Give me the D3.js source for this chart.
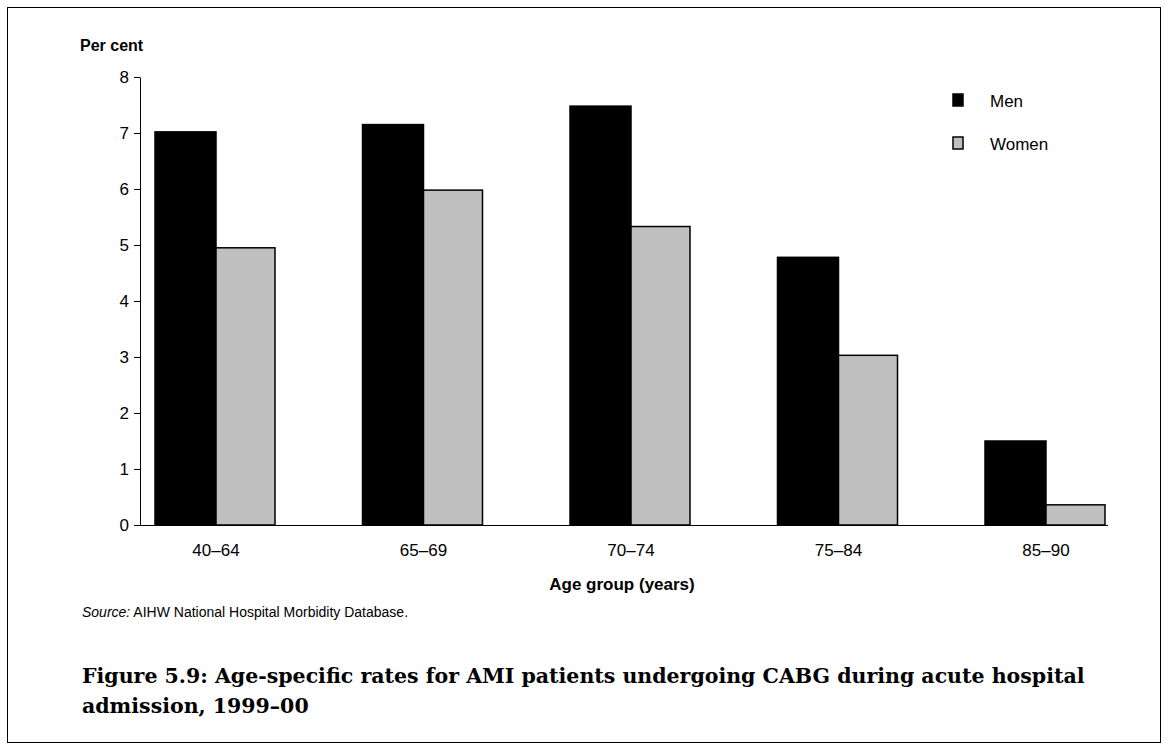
<!DOCTYPE html>
<html><head><meta charset="utf-8">
<script src="https://cdn.jsdelivr.net/npm/d3@7"></script>
<style>body{margin:0;background:#fff}</style></head>
<body><svg id="c" width="1169" height="751"></svg>
<script>
const categories = ["40–64","65–69","70–74","75–84","85–90"];
const men = [7.02, 7.15, 7.48, 4.78, 1.5];
const women = [4.95, 5.98, 5.33, 3.03, 0.36];
const yTicks = [0,1,2,3,4,5,6,7,8];
const svg = d3.select("#c");
const F = "Arial, 'Liberation Sans', sans-serif";
svg.append("rect").attr("x",7.5).attr("y",7.5).attr("width",1153).attr("height",735).attr("fill","none").attr("stroke","#000").attr("stroke-width",1);
const x = d3.scaleBand().domain(categories).range([112.25,1149.75]);
const y = d3.scaleLinear().domain([0,8]).range([525,77]);
const bw = 61;
const g = svg.append("g");
categories.forEach((c,i)=>{
  const cx = x(c)+x.bandwidth()/2;
  g.append("rect").attr("x",cx-bw).attr("y",y(men[i])).attr("width",bw).attr("height",y(0)-y(men[i])).attr("fill","#000").attr("stroke","#000").attr("stroke-width",1.5);
  g.append("rect").attr("x",cx).attr("y",y(women[i])).attr("width",bw-2).attr("height",y(0)-y(women[i])).attr("fill","#c0c0c0").attr("stroke","#000").attr("stroke-width",1.5);
});
const ya = svg.append("g").attr("transform","translate(140,0)").call(d3.axisLeft(y).tickValues(yTicks).tickSize(6).tickSizeOuter(0));
const xa = svg.append("g").attr("transform","translate(0,525)").call(d3.axisBottom(x).tickSize(0).tickSizeOuter(0));
xa.select("path").remove();
svg.append("line").attr("x1",140).attr("x2",1108).attr("y1",525.5).attr("y2",525.5).attr("stroke","#000");
[ya,xa].forEach(a=>{a.selectAll("text").attr("font-family",F).attr("font-size",17).attr("fill","#000");a.selectAll("line,path").attr("stroke","#000");});
ya.selectAll("text").attr("dx",-2);
xa.selectAll("text").attr("dy",28);
svg.append("text").attr("x",80).attr("y",51).attr("font-family",F).attr("font-size",16).attr("font-weight","bold").text("Per cent");
svg.append("text").attr("x",622).attr("y",590).attr("text-anchor","middle").attr("font-family",F).attr("font-size",17).attr("font-weight","bold").text("Age group (years)");
const st = svg.append("text").attr("x",82).attr("y",617).attr("font-family",F).attr("font-size",14);
st.append("tspan").attr("font-style","italic").text("Source:");
st.append("tspan").text("  AIHW National Hospital Morbidity Database.");
[["Men","#000"],["Women","#c0c0c0"]].forEach((d,i)=>{
  svg.append("rect").attr("x",953).attr("y",94+i*43).attr("width",10).attr("height",12).attr("fill",d[1]).attr("stroke","#000").attr("stroke-width",1.5);
  svg.append("text").attr("x",990).attr("y",107+i*43).attr("font-family",F).attr("font-size",17).text(d[0]);
});
const T = "'DejaVu Serif', 'Liberation Serif', serif";
svg.append("text").attr("x",82).attr("y",683).attr("font-family",T).attr("font-size",20.5).attr("font-weight","bold").text("Figure 5.9: Age-specific rates for AMI patients undergoing CABG during acute hospital");
svg.append("text").attr("x",82).attr("y",713).attr("font-family",T).attr("font-size",20.5).attr("font-weight","bold").text("admission, 1999–00");
</script></body></html>
